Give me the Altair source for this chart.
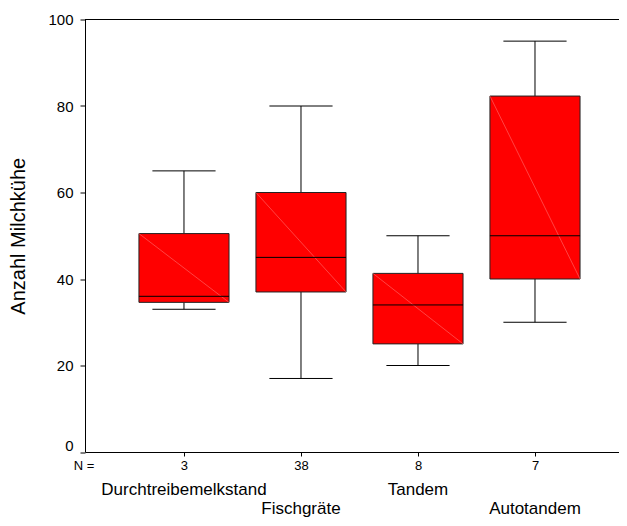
import altair as alt
import pandas as pd
import json

categories = ["Durchtreibemelkstand", "Fischgräte", "Tandem", "Autotandem"]
positions = [1, 2, 3, 4]
n_values = [3, 38, 8, 7]
whisker_low = [33, 17, 20, 30]
q1 = [34.6, 37, 25, 40]
median = [36, 45, 34, 50]
q3 = [50.5, 60, 41.3, 82.3]
whisker_high = [65, 80, 50, 95]
y_ticks = [0, 20, 40, 60, 80, 100]

FONT = "Liberation Sans, Arial, sans-serif"
BOX_HALF = 0.385
CAP_HALF = 0.27
W = 534
H = 432.5

df = pd.DataFrame({
    "pos": positions, "cat": categories, "n": n_values,
    "lo": whisker_low, "q1": q1, "med": median, "q3": q3, "hi": whisker_high,
})
df["bl"] = df["pos"] - BOX_HALF
df["br"] = df["pos"] + BOX_HALF
df["cl"] = df["pos"] - CAP_HALF
df["cr"] = df["pos"] + CAP_HALF
df["row"] = [0, 1, 0, 1]

xscale = alt.Scale(domain=[0.154, 4.718], nice=False, zero=False)
yscale = alt.Scale(domain=[0, 100], nice=False)

label_expr = json.dumps([""] + [str(v) for v in n_values]) + "[datum.value]"

xaxis = alt.Axis(values=positions, labelExpr=label_expr, title=None, grid=False,
                 domainColor="black", domainWidth=1, tickColor="black", tickSize=4,
                 labelFont=FONT, labelFontSize=13, labelColor="black", labelPadding=3,
                 labelAngle=0)
yaxis = alt.Axis(values=y_ticks, title="Anzahl Milchkühe", grid=False,
                 domainColor="black", domainWidth=1, tickColor="black", tickSize=5,
                 labelFont=FONT, labelFontSize=15, labelColor="black", labelPadding=7,
                 labelOffset={"condition": {"test": "datum.value === 0", "value": -7}, "value": 0},
                 titleFont=FONT, titleFontSize=20, titleFontWeight="normal",
                 titleColor="black", titlePadding=19)

base = alt.Chart(df)

whisk_up = base.mark_rule(color="black", strokeWidth=1).encode(
    x=alt.X("pos:Q", scale=xscale, axis=xaxis),
    y=alt.Y("q3:Q", scale=yscale, axis=yaxis), y2="hi:Q")
whisk_dn = base.mark_rule(color="black", strokeWidth=1).encode(
    x=alt.X("pos:Q", scale=xscale), y=alt.Y("lo:Q", scale=yscale), y2="q1:Q")
cap_hi = base.mark_rule(color="black", strokeWidth=1).encode(
    x=alt.X("cl:Q", scale=xscale), x2="cr:Q", y=alt.Y("hi:Q", scale=yscale))
cap_lo = base.mark_rule(color="black", strokeWidth=1).encode(
    x=alt.X("cl:Q", scale=xscale), x2="cr:Q", y=alt.Y("lo:Q", scale=yscale))
box = base.mark_rect(fill="#ff0000", stroke="#222222", strokeWidth=1).encode(
    x=alt.X("bl:Q", scale=xscale), x2="br:Q",
    y=alt.Y("q1:Q", scale=yscale), y2="q3:Q")
diag = base.mark_rule(color="#ff7070", strokeWidth=0.6).encode(
    x=alt.X("bl:Q", scale=xscale), x2="br:Q",
    y=alt.Y("q3:Q", scale=yscale), y2="q1:Q")
med = base.mark_rule(color="black", strokeWidth=1).encode(
    x=alt.X("bl:Q", scale=xscale), x2="br:Q", y=alt.Y("med:Q", scale=yscale))

top_line = alt.Chart(pd.DataFrame({"v": [100]})).mark_rule(color="black", strokeWidth=1).encode(
    y=alt.Y("v:Q", scale=yscale), x=alt.value(0), x2=alt.value(W))

name_row0 = base.transform_filter("datum.row == 0").mark_text(
    font=FONT, fontSize=17, color="black", align="center", baseline="middle").encode(
    x=alt.X("pos:Q", scale=xscale), y=alt.value(470.5), text="cat:N")
name_row1 = base.transform_filter("datum.row == 1").mark_text(
    font=FONT, fontSize=17, color="black", align="center", baseline="middle").encode(
    x=alt.X("pos:Q", scale=xscale), y=alt.value(489), text="cat:N")

n_label = alt.Chart(pd.DataFrame({"t": ["N ="]})).mark_text(
    font=FONT, fontSize=13, color="black", align="center", baseline="middle").encode(
    x=alt.value(-1), y=alt.value(446.5), text="t:N")

chart = alt.layer(
    whisk_up, whisk_dn, cap_hi, cap_lo, box, diag, med, top_line,
    name_row0, name_row1, n_label
).properties(
    width=W, height=H,
    autosize=alt.AutoSizeParams(type="none"),
    padding={"left": 77, "top": 11.5, "right": 0, "bottom": 66},
    background="white",
).configure_view(stroke=None)

chart.save("out.html", embed_options={"renderer": "svg", "actions": False})
